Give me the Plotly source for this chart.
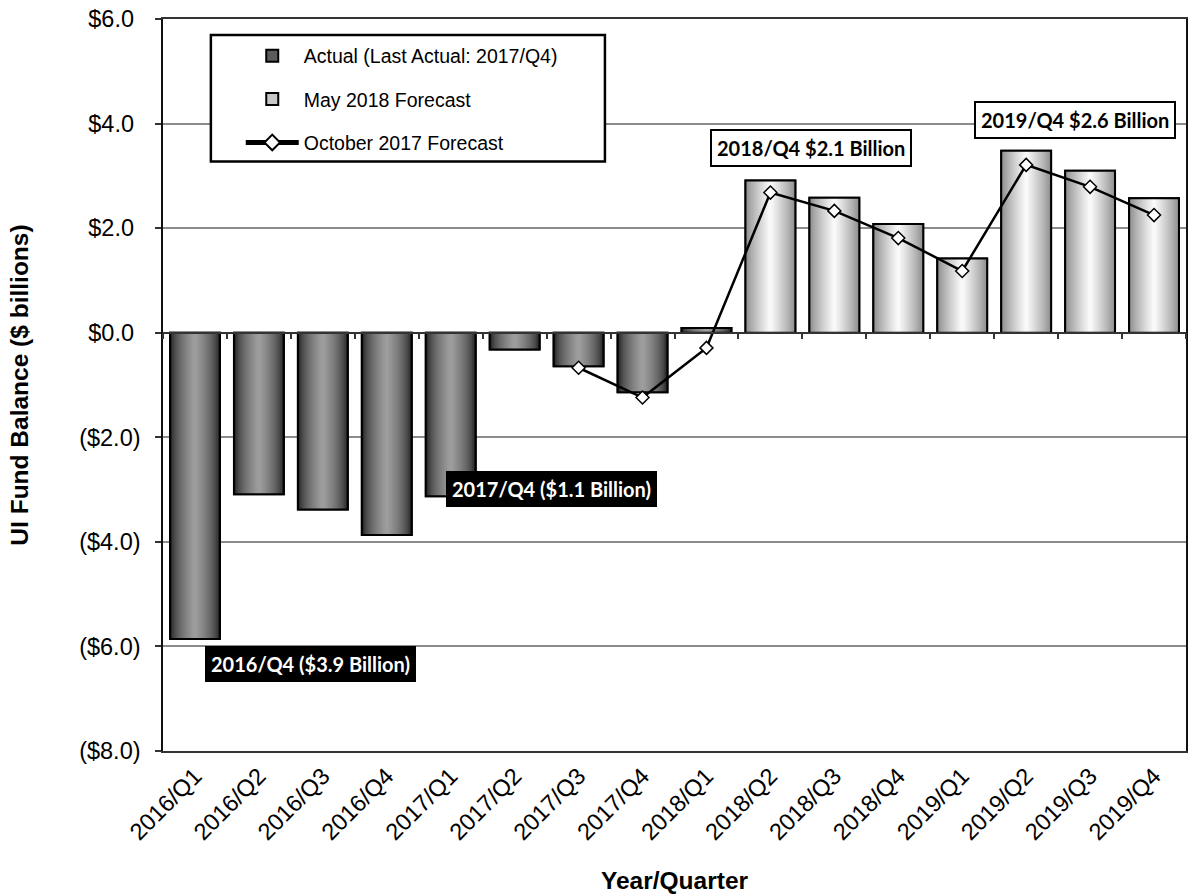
import plotly.graph_objects as go

# ---------------- data ----------------
quarters = ["2016/Q1", "2016/Q2", "2016/Q3", "2016/Q4", "2017/Q1", "2017/Q2", "2017/Q3", "2017/Q4",
            "2018/Q1", "2018/Q2", "2018/Q3", "2018/Q4", "2019/Q1", "2019/Q2", "2019/Q3", "2019/Q4"]
actual_quarters = quarters[:9]
actual_values = [-5.86, -3.09, -3.38, -3.87, -3.13, -0.32, -0.64, -1.14, 0.09]
forecast_quarters = quarters[9:]
forecast_values = [2.91, 2.58, 2.08, 1.42, 3.48, 3.10, 2.57]
oct_quarters = quarters[6:]
oct_values = [-0.67, -1.24, -0.29, 2.68, 2.33, 1.81, 1.18, 3.21, 2.79, 2.25]

y_ticks = [-8, -6, -4, -2, 0, 2, 4, 6]
y_ticktext = ["($8.0)", "($6.0)", "($4.0)", "($2.0)", "$0.0\u00a0", "$2.0\u00a0", "$4.0\u00a0", "$6.0\u00a0"]
y_range = [-8, 6]

series_names = ["Actual (Last Actual: 2017/Q4)", "May 2018 Forecast", "October 2017 Forecast"]

# ---------------- style ----------------
FONT = "Liberation Sans, Arial, sans-serif"
BAR_W = 0.78
N_LAYERS = 14


def mix(c1, c2, t):
    return "rgb(%d,%d,%d)" % tuple(round(a + (b - a) * t) for a, b in zip(c1, c2))


fig = go.Figure()


def gradient_bars(x, y, name, edge, center, power, group):
    # base trace carries the legend entry
    fig.add_trace(go.Bar(x=x, y=y, name=name, width=BAR_W, legendgroup=group,
                         marker=dict(color=mix(edge, center, 0.55), line=dict(color="black", width=2)),
                         hoverinfo="skip"))
    for k in range(N_LAYERS):
        s = (k + 0.5) / N_LAYERS
        fig.add_trace(go.Bar(x=x, y=y, width=BAR_W * (1 - k / N_LAYERS), showlegend=False,
                             legendgroup=group,
                             marker=dict(color=mix(edge, center, s ** power), line=dict(width=0)),
                             hoverinfo="skip"))
    fig.add_trace(go.Bar(x=x, y=y, width=BAR_W, showlegend=False, legendgroup=group,
                         marker=dict(color="rgba(0,0,0,0)", line=dict(color="black", width=2)),
                         hoverinfo="skip"))


gradient_bars(actual_quarters, actual_values, series_names[0], (10, 10, 10), (160, 160, 160), 0.5, "a")
gradient_bars(forecast_quarters, forecast_values, series_names[1], (135, 135, 135), (252, 252, 252), 0.8, "b")

fig.add_trace(go.Scatter(x=oct_quarters, y=oct_values, name=series_names[2], mode="lines+markers",
                         xaxis="x2", legendgroup="c",
                         line=dict(color="black", width=2.5),
                         marker=dict(symbol="diamond", size=10, color="white",
                                     line=dict(color="black", width=1.5))))

zero_pos = (0 - y_range[0]) / (y_range[1] - y_range[0])

fig.update_layout(
    width=1194, height=896,
    margin=dict(l=163, r=6, t=19, b=142),
    paper_bgcolor="white", plot_bgcolor="white",
    barmode="overlay",
    font=dict(family=FONT, color="black"),
    showlegend=True,
    legend=dict(x=0.076, y=0.976, xanchor="left", yanchor="top",
                bgcolor="rgba(0,0,0,0)", borderwidth=0,
                font=dict(family=FONT, size=19.5, color="black"),
                itemwidth=53, traceorder="grouped", tracegroupgap=15, itemsizing="constant"),
    xaxis=dict(type="category", categoryorder="array", categoryarray=quarters,
               range=[-0.5, len(quarters) - 0.5],
               showgrid=False, ticks="", tickangle=-45,
               tickfont=dict(family=FONT, size=23.5, color="black"),
               showline=True, linecolor="#333333", linewidth=2, mirror=True,
               title=dict(text="<b>Year/Quarter</b>", standoff=28,
                          font=dict(family=FONT, size=24.5, color="black"))),
    xaxis2=dict(type="category", categoryorder="array", categoryarray=quarters,
                range=[-0.5, len(quarters) - 0.5],
                overlaying="x", anchor="free", position=zero_pos, side="bottom",
                showgrid=False, showticklabels=False, ticks="outside", ticklen=6,
                tickcolor="#333333", tickwidth=1.5, tickson="boundaries",
                showline=True, linecolor="#333333", linewidth=1.5),
    yaxis=dict(range=y_range, tickvals=y_ticks, ticktext=y_ticktext,
               showgrid=True, gridcolor="#8c8c8c", gridwidth=1.5, zeroline=False,
               ticks="outside", ticklen=6, tickcolor="#333333", tickwidth=1.5,
               ticklabelstandoff=10,
               tickfont=dict(family=FONT, size=23.5, color="black"),
               showline=True, linecolor="#111111", linewidth=1.5, mirror=True,
               title=dict(text="<b>UI Fund Balance ($ billions)</b>", standoff=44,
                          font=dict(family=FONT, size=24.5, color="black"))),
)

# legend frame
fig.add_shape(type="rect", xref="paper", yref="paper", x0=0.0468, x1=0.432, y0=0.8054, y1=0.978,
              line=dict(color="black", width=2.5), fillcolor="white", layer="above")

ann_font_w = dict(family="Lato, sans-serif", size=20, color="white")
ann_font_b = dict(family="Lato, sans-serif", size=20, color="black")
fig.add_annotation(x=1.81, y=-6.33, xref="x", yref="y", text="<b>2016/Q4 ($3.9 Billion)</b>",
                   showarrow=False, font=ann_font_w, bgcolor="black", bordercolor="black",
                   borderwidth=1, borderpad=5)
fig.add_annotation(x=5.58, y=-2.99, xref="x", yref="y", text="<b>2017/Q4 ($1.1 Billion)</b>",
                   showarrow=False, font=ann_font_w, bgcolor="black", bordercolor="black",
                   borderwidth=1, borderpad=5)
fig.add_annotation(x=9.63, y=3.54, xref="x", yref="y", text="<b>2018/Q4 $2.1 Billion</b>",
                   showarrow=False, font=ann_font_b, bgcolor="white", bordercolor="black",
                   borderwidth=2, borderpad=5)
fig.add_annotation(x=13.77, y=4.06, xref="x", yref="y", text="<b>2019/Q4 $2.6 Billion</b>",
                   showarrow=False, font=ann_font_b, bgcolor="white", bordercolor="black",
                   borderwidth=2, borderpad=5)

fig.write_html("out.html", config={"displayModeBar": False},
               post_script="document.body.style.margin='0';")
